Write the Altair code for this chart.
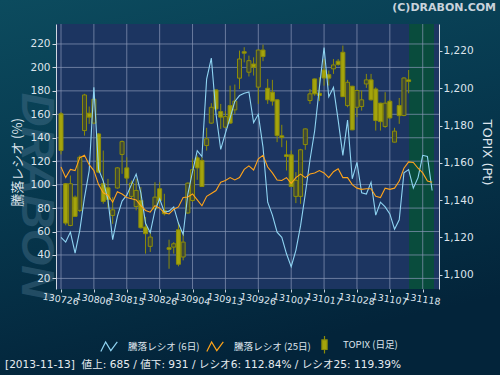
import altair as alt
import pandas as pd

# ---------------- data ----------------
dates = ["2013-07-26", "2013-07-29", "2013-07-30", "2013-07-31",
         "2013-08-01", "2013-08-02", "2013-08-05", "2013-08-06", "2013-08-07", "2013-08-08", "2013-08-09",
         "2013-08-12", "2013-08-13", "2013-08-14", "2013-08-15", "2013-08-16", "2013-08-19", "2013-08-20",
         "2013-08-21", "2013-08-22", "2013-08-23", "2013-08-26", "2013-08-27", "2013-08-28", "2013-08-29",
         "2013-08-30",
         "2013-09-02", "2013-09-03", "2013-09-04", "2013-09-05", "2013-09-06", "2013-09-09", "2013-09-10",
         "2013-09-11", "2013-09-12", "2013-09-13", "2013-09-17", "2013-09-18", "2013-09-19", "2013-09-20",
         "2013-09-24", "2013-09-25", "2013-09-26", "2013-09-27", "2013-09-30",
         "2013-10-01", "2013-10-02", "2013-10-03", "2013-10-04", "2013-10-07", "2013-10-08", "2013-10-09",
         "2013-10-10", "2013-10-11", "2013-10-15", "2013-10-16", "2013-10-17", "2013-10-18", "2013-10-21",
         "2013-10-22", "2013-10-23", "2013-10-24", "2013-10-25", "2013-10-28", "2013-10-29", "2013-10-30",
         "2013-10-31",
         "2013-11-01", "2013-11-05", "2013-11-06", "2013-11-07", "2013-11-08", "2013-11-11", "2013-11-12",
         "2013-11-13",
         "2013-11-14", "2013-11-15", "2013-11-18", "2013-11-19", "2013-11-20"]

topix_open = [1186.3, 1148.8, 1126.4, 1141.6, 1134.5, 1177.3, 1186.6, 1181.3, 1175.5, 1148.8,
              1146.6, 1131.8, 1146.5, 1164.5, 1157.3, 1142.0, 1136.6, 1139.8, 1125.6, 1115.2,
              1135.4, 1146.1, 1134.5, 1114.5, 1114.8, 1124.1, 1109.5, 1133.1, 1139.8, 1162.7,
              1161.3, 1169.3, 1181.3, 1199.1, 1187.5, 1179.1, 1190.7, 1188.4, 1205.4, 1219.6,
              1208.6, 1213.0, 1200.6, 1220.5, 1200.0, 1197.9, 1193.8, 1174.5, 1164.3, 1164.3,
              1142.0, 1142.0, 1169.8, 1193.4, 1205.0, 1197.3, 1209.8, 1207.3, 1210.4, 1214.5,
              1219.3, 1190.7, 1201.1, 1189.8, 1190.2, 1202.3, 1204.5, 1199.6, 1192.0, 1179.5,
              1193.0, 1171.1, 1190.7, 1185.4, 1204.5]
topix_high = [1187.2, 1149.2, 1153.2, 1142.5, 1164.0, 1197.0, 1190.2, 1195.0, 1175.9, 1166.6,
              1151.4, 1141.6, 1157.7, 1172.0, 1163.0, 1150.5, 1151.4, 1147.0, 1131.0, 1123.8,
              1149.6, 1149.6, 1143.4, 1118.8, 1117.5, 1128.2, 1122.9, 1149.5, 1162.2, 1164.0,
              1163.0, 1178.8, 1192.0, 1199.4, 1191.6, 1187.7, 1201.4, 1202.0, 1220.2, 1222.0,
              1217.5, 1216.6, 1220.7, 1223.4, 1205.0, 1204.5, 1194.0, 1180.4, 1172.0, 1166.6,
              1155.0, 1167.5, 1178.4, 1199.6, 1205.2, 1205.9, 1215.7, 1209.5, 1215.7, 1215.7,
              1222.9, 1204.5, 1201.3, 1199.2, 1198.8, 1207.7, 1207.7, 1200.5, 1192.2, 1197.9,
              1193.8, 1178.8, 1194.8, 1205.9, 1209.8]
topix_low = [1164.5, 1126.5, 1126.0, 1131.0, 1133.6, 1174.6, 1180.9, 1181.0, 1154.5, 1138.1,
             1135.8, 1127.3, 1146.1, 1154.1, 1148.8, 1140.7, 1134.5, 1124.7, 1111.3, 1112.2,
             1134.5, 1137.1, 1131.8, 1103.2, 1111.3, 1104.5, 1107.7, 1132.7, 1139.0, 1150.9,
             1147.0, 1166.6, 1180.9, 1188.0, 1178.2, 1178.8, 1180.9, 1186.3, 1199.6, 1213.9,
             1206.3, 1206.8, 1191.6, 1214.5, 1191.6, 1190.7, 1171.1, 1168.4, 1155.9, 1147.0,
             1138.4, 1138.0, 1167.0, 1191.6, 1196.0, 1193.1, 1201.4, 1201.4, 1207.7, 1212.1,
             1195.3, 1189.8, 1177.5, 1184.5, 1188.0, 1200.2, 1193.4, 1177.3, 1177.3, 1178.8,
             1183.6, 1171.0, 1180.9, 1185.0, 1197.3]
topix_close = [1166.6, 1127.7, 1148.8, 1131.3, 1163.0, 1196.4, 1184.5, 1194.1, 1155.0, 1139.3,
               1140.4, 1134.8, 1157.3, 1171.4, 1151.8, 1149.1, 1145.2, 1125.2, 1122.0, 1120.2,
               1141.6, 1139.8, 1132.7, 1113.6, 1116.6, 1105.6, 1117.5, 1149.1, 1156.3, 1157.3,
               1147.3, 1172.9, 1189.8, 1188.9, 1184.5, 1184.8, 1181.3, 1193.1, 1215.7, 1218.8,
               1214.8, 1211.3, 1220.5, 1217.0, 1193.8, 1193.1, 1174.6, 1173.6, 1163.4, 1147.3,
               1150.6, 1167.0, 1178.2, 1197.0, 1197.0, 1196.1, 1205.5, 1205.4, 1212.5, 1212.7,
               1195.5, 1203.2, 1177.7, 1198.8, 1193.8, 1204.5, 1193.8, 1182.7, 1182.1, 1192.0,
               1184.1, 1177.0, 1185.3, 1205.5, 1203.6]

ratio6 = [55, 51, 59.5, 41.6, 61, 89, 112, 183, 113, 103,
          87, 53, 73, 86, 91, 100, 109, 93, 67, 59,
          78, 88, 76.5, 77.4, 81, 67, 57.5, 92, 111, 129,
          124, 190, 208, 160, 130, 144, 157, 171, 176, 178,
          179, 153, 160, 132, 85, 74, 59.5, 55, 41, 30,
          44, 65, 92, 121, 146, 183, 217, 175, 183, 155,
          125, 155, 105, 119, 93, 92, 102, 74, 85, 81,
          75, 62, 70, 110, 112.84, 97, 106, 125, 124, 95]
ratio25 = [115, 106, 113, 112, 123, 125, 117, 112, 100, 93,
           91, 85, 94, 92, 89, 88, 87, 82, 78, 76.5,
           82, 80, 76, 75, 79, 81, 89, 89.5, 92, 87,
           82, 90, 92.5, 95, 102, 103.5, 106, 104, 106, 113,
           116, 112.5, 122, 125, 115, 110, 104, 103.5, 106, 101,
           106, 109, 106, 109, 110, 112, 110, 106, 111, 113.5,
           106, 106, 100, 97, 96, 96.5, 96.5, 90, 89, 97,
           96, 97, 103, 114, 119.39, 118.9, 114, 110, 103, 102]

advances = 685
declines = 931

xtick_dates = ["2013-07-26", "2013-08-06", "2013-08-15", "2013-08-26", "2013-09-04", "2013-09-13",
               "2013-09-26", "2013-10-07", "2013-10-17", "2013-10-28", "2013-11-07", "2013-11-18"]
left_ticks = [20, 40, 60, 80, 100, 120, 140, 160, 180, 200, 220]
right_ticks = [1100, 1120, 1140, 1160, 1180, 1200, 1220]
series_names = ["騰落レシオ (6日)", "騰落レシオ (25日)", "TOPIX (日足)"]

# ---------------- frames ----------------
n_c = len(topix_open)
candles = pd.DataFrame({
    "i": list(range(n_c)),
    "date": dates[:n_c],
    "open": topix_open, "high": topix_high, "low": topix_low, "close": topix_close,
})
candles["up"] = candles["close"] >= candles["open"]

lines = pd.concat([
    pd.DataFrame({"i": list(range(len(ratio6))), "v": ratio6, "s": series_names[0]}),
    pd.DataFrame({"i": list(range(len(ratio25))), "v": ratio25, "s": series_names[1]}),
])

tick_idx = [dates.index(d) for d in xtick_dates]
tick_lab = [d[2:4] + d[5:7] + d[8:10] for d in xtick_dates]
label_expr = "[" + ",".join("'%s'" % t for t in tick_lab) + "][indexof([" + \
    ",".join(str(t) for t in tick_idx) + "], datum.value)]"

last_i = n_c - 1
future = pd.DataFrame({"a": [last_i + 0.1], "b": [79.4]})
xgrid = pd.DataFrame({"i": tick_idx})
ygrid = pd.DataFrame({"v": left_ticks})
one = pd.DataFrame({"k": [0]})

W, H = 383, 265
XDOM = [0, 79.4]
LDOM = [10.97, 237.04]
RDOM = [1092.34, 1234.46]

FONT = "DejaVu Sans, Noto Sans CJK JP, sans-serif"
CJK = "Noto Sans CJK JP, DejaVu Sans, sans-serif"
LBL = "#dde4ec"
OLIVE = "#a4a40c"
OLIVE_D = "#8c8c08"
BLUE = "#8fd4f2"
ORANGE = "#ffa41a"

xs = alt.Scale(domain=XDOM, nice=False, zero=False)
xaxis = alt.Axis(values=tick_idx, labelExpr=label_expr, grid=False, domain=False,
                 tickSize=3, tickColor="#c8d0dc", labelAngle=9, labelAlign="center",
                 labelBaseline="top", labelPadding=2, labelFontSize=9.5,
                 labelFont=FONT, labelColor=LBL, labelOverlap=False, labelFlush=False,
                 labelSeparation=0, labelBound=False, title=None, zindex=2)


def X(field):
    return alt.X(field, scale=xs, axis=xaxis)


# ---------------- background / grid (left scale, no axis) ----------------
grad = alt.Gradient(gradient="linear", x1=0, x2=0.3, y1=0, y2=1,
                    stops=[alt.GradientStop(color="#0c4b5e", offset=0),
                           alt.GradientStop(color="#073a50", offset=0.45),
                           alt.GradientStop(color="#03243a", offset=1)])
bg = alt.Chart(one).mark_rect(clip=False, fill=grad).encode(
    x=alt.value(-56), x2=alt.value(444), y=alt.value(-24), y2=alt.value(351))
water = alt.Chart(one).mark_text(
    text="DRABON", angle=90, font="Liberation Sans", fontSize=47, fontStyle="italic",
    fontWeight="bold", color="#4a748e", opacity=0.42, align="center", baseline="middle"
).encode(x=alt.value(-20), y=alt.value(172))
plotbg = alt.Chart(one).mark_rect(fill="#1c3561").encode(
    x=alt.value(0), x2=alt.value("width"), y=alt.value(0), y2=alt.value("height"))
green = alt.Chart(future).mark_rect(fill="#094c3d").encode(
    x=X("a:Q"), x2="b:Q", y=alt.value(0), y2=alt.value("height"))
gx = alt.Chart(xgrid).mark_rule(color="#8a99b8", strokeWidth=1, opacity=0.7).encode(
    x=X("i:Q"), y=alt.value(0), y2=alt.value("height"))
gy = alt.Chart(ygrid).mark_rule(color="#8a99b8", strokeWidth=1, opacity=0.7).encode(
    y=alt.Y("v:Q", scale=alt.Scale(domain=LDOM, nice=False, zero=False), axis=None),
    x=alt.value(0), x2=alt.value("width"))
back = alt.layer(bg, water, plotbg, green, gx, gy)

# ---------------- candles (right scale) ----------------
rs = alt.Scale(domain=RDOM, nice=False, zero=False)
wick = alt.Chart(candles).mark_rule(color=OLIVE_D, strokeWidth=1, clip=True).encode(
    x=X("i:Q"),
    y=alt.Y("low:Q", scale=rs,
            axis=alt.Axis(orient="right", values=right_ticks, format=",d", grid=False,
                          domainColor="#cfd6e0", tickColor="#cfd6e0", tickSize=3,
                          labelPadding=1, labelFontSize=10.5, labelFont=FONT, labelColor=LBL,
                          title="TOPIX (Pt)", titleAngle=90, titleX=47, titleY=128,
                          titleAlign="center", titleBaseline="middle", titleFontSize=13,
                          titleFontWeight="normal", titleFont=FONT, titleColor=LBL,
                          zindex=2)),
    y2="high:Q")
body = alt.Chart(candles).mark_bar(size=4, strokeWidth=1, clip=True).encode(
    x=X("i:Q"),
    y=alt.Y("open:Q", scale=rs),
    y2="close:Q",
    fill=alt.condition("datum.up", alt.value("#3d4838"), alt.value(OLIVE)),
    stroke=alt.value(OLIVE_D))
cands = alt.layer(wick, body)

# ---------------- lines + legend + texts (left scale) ----------------
ls = alt.Scale(domain=LDOM, nice=False, zero=False)
line = alt.Chart(lines).mark_line(strokeWidth=1.1, clip=True).encode(
    x=X("i:Q"),
    y=alt.Y("v:Q", scale=ls,
            axis=alt.Axis(orient="left", values=left_ticks, grid=False,
                          domainColor="#cfd6e0", tickColor="#cfd6e0", tickSize=4,
                          labelPadding=2, labelFontSize=10.5, labelFont=FONT, labelColor=LBL,
                          title="騰落レシオ (%)", titleAngle=-90, titleX=-39, titleY=138,
                          titleAlign="center", titleBaseline="middle", titleFontSize=13,
                          titleFontWeight="normal", titleFont=CJK, titleColor=LBL,
                          zindex=2)),
    color=alt.Color("s:N", scale=alt.Scale(domain=series_names[:2], range=[BLUE, ORANGE]),
                    legend=None),
    detail="s:N")

zig = "M-1,0.55L-0.45,-0.55L0.15,0.45L0.9,-0.55"
candle_icon = "M0,-1L0,-0.55M-0.3,-0.55L0.3,-0.55L0.3,0.55L-0.3,0.55ZM0,0.55L0,1"
leg = alt.Legend(orient="none", legendX=44, legendY=311, direction="horizontal", title=None,
                 symbolSize=300, symbolStrokeWidth=1.2, labelFontSize=9.6, labelFont=CJK,
                 labelColor=LBL, columnPadding=4, labelOffset=9, padding=0)
legdf = pd.DataFrame({"s": series_names})
legend_layer = alt.Chart(legdf).mark_point(filled=True, opacity=1).encode(
    shape=alt.Shape("s:N", scale=alt.Scale(domain=series_names, range=[zig, zig, candle_icon]),
                    legend=leg),
    fill=alt.Fill("s:N", scale=alt.Scale(domain=series_names,
                                         range=["transparent", "transparent", OLIVE]), legend=leg),
    stroke=alt.Stroke("s:N", scale=alt.Scale(domain=series_names, range=[BLUE, ORANGE, OLIVE_D]),
                      legend=leg),
).transform_filter("false")

last_date = dates[last_i]
NB = "\u00a0"
footer = "[%s]%s%s値上: %d / 値下: %d / レシオ6: %.2f%% / レシオ25: %.2f%%" % (
    last_date, NB, NB, advances, declines, ratio6[last_i], ratio25[last_i])
foot = alt.Chart(one).mark_text(align="left", baseline="middle", fontSize=10.6, font=FONT,
                                color="#e6ebf0").encode(
    x=alt.value(-51), y=alt.value(341), text=alt.value(footer))
copy = alt.Chart(one).mark_text(align="right", baseline="middle", fontSize=11, font=FONT,
                                fontWeight="bold", color="#c9d3dc").encode(
    x=alt.value(440), y=alt.value(-16), text=alt.value("(C)DRABON.COM"))
front = alt.layer(line, legend_layer, foot, copy)

chart = alt.layer(back, cands, front).resolve_scale(
    y="independent"
).properties(
    width=W, height=H, autosize="none",
    padding={"left": 56, "top": 24, "right": 61, "bottom": 86},
).configure(background="#06334a").configure_view(
    stroke=None, fill=None
).configure_axisX(labelOverlap=False)

chart.save("out.html", embed_options={"renderer": "svg", "actions": False})
